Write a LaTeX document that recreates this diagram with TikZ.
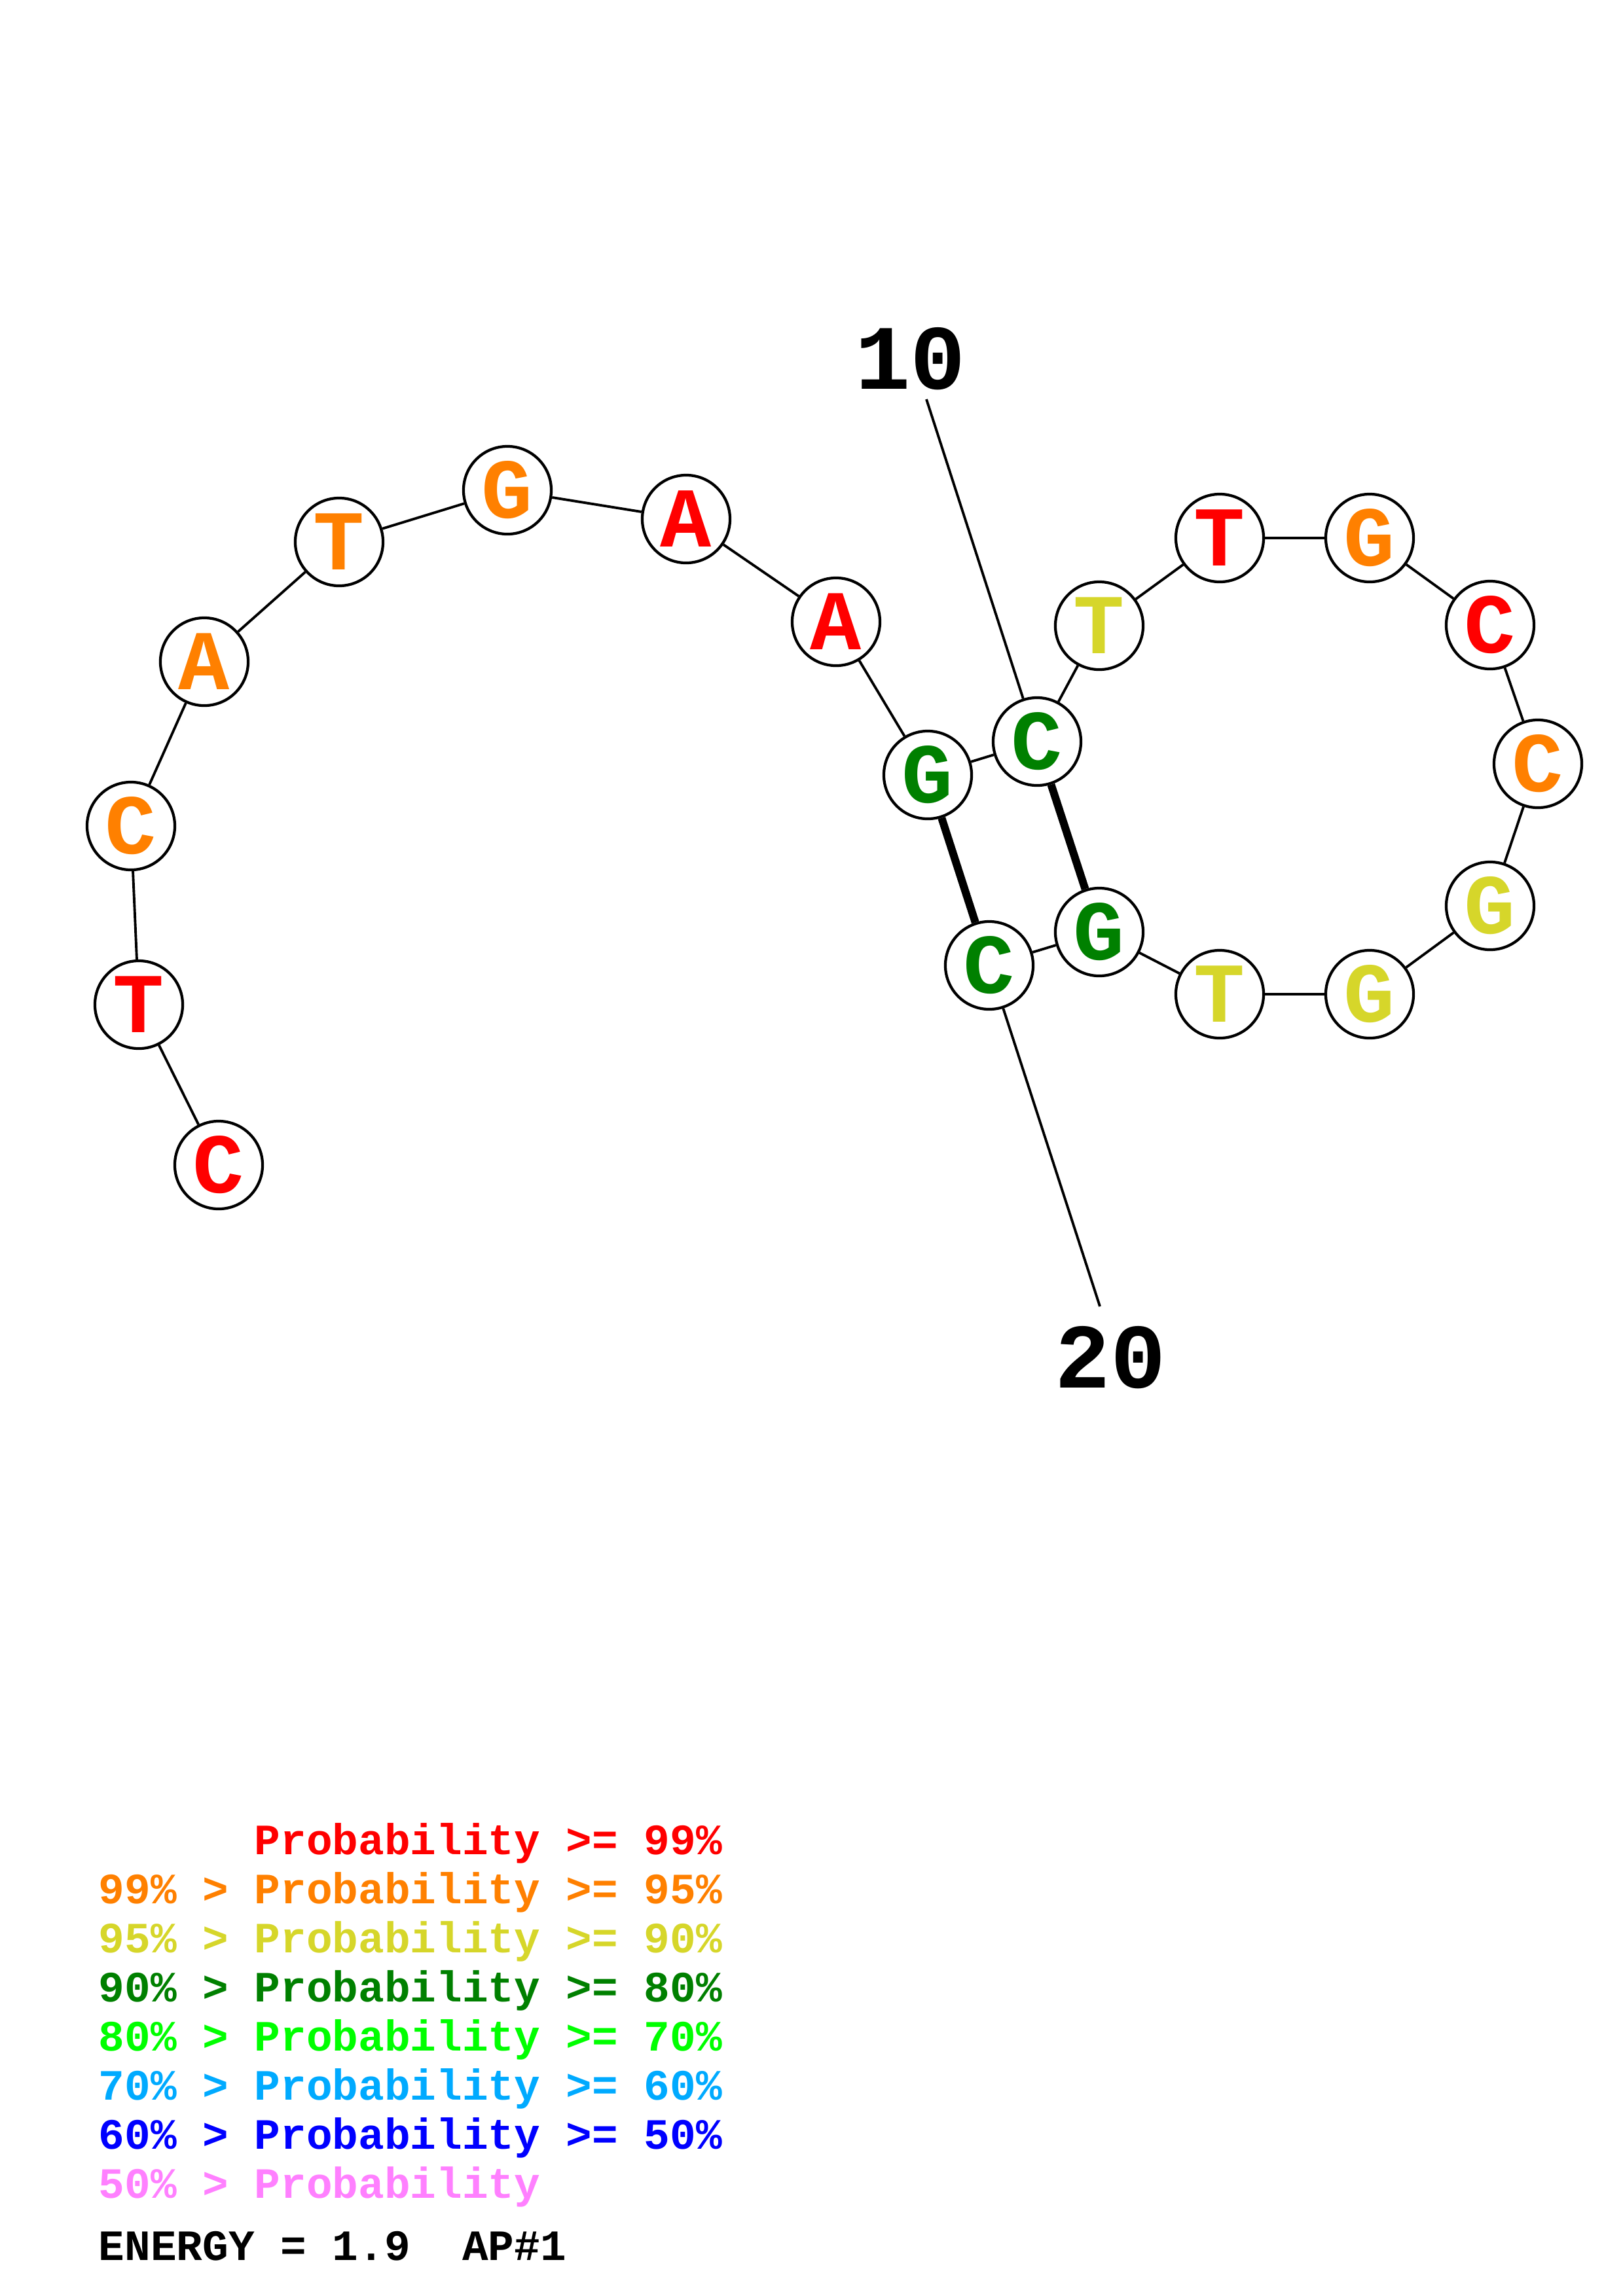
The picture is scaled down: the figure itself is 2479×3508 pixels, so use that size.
\documentclass[tikz,border=0pt]{standalone}
\usepackage{fontspec}
\newfontfamily\monof{Liberation Mono}
\definecolor{pr}{RGB}{255,0,0}
\definecolor{po}{RGB}{255,128,0}
\definecolor{py}{RGB}{214,214,42}
\definecolor{pdg}{RGB}{0,128,0}
\definecolor{pg}{RGB}{0,255,0}
\definecolor{plb}{RGB}{0,170,255}
\definecolor{pb}{RGB}{0,0,255}
\definecolor{pp}{RGB}{255,128,255}
\newcommand{\nucfont}{\monof\bfseries\fontsize{37}{37}\selectfont}
\newcommand{\numfont}{\monof\bfseries\fontsize{40}{40}\selectfont}
\newcommand{\legfont}{\monof\bfseries\fontsize{18.8}{18.8}\selectfont}
\tikzset{
  nuc/.style={circle, draw=black, line width=1.2pt, minimum size=1.34cm, inner sep=0pt, fill=white, font=\nucfont},
  bb/.style={line width=1.1pt, black},
  pairline/.style={line width=3.4pt, black},
  numlab/.style={font=\numfont, inner sep=0pt},
  leg/.style={font=\legfont, anchor=base west, inner sep=0pt}
}
\begin{document}
\begin{tikzpicture}[x=0.01cm,y=-0.01cm]
\useasboundingbox (0,0) rectangle (2479,3508);
\coordinate (n1) at (334,1780);
\coordinate (n2) at (212,1535);
\coordinate (n3) at (200,1262);
\coordinate (n4) at (312,1011);
\coordinate (n5) at (518,828);
\coordinate (n6) at (775,749);
\coordinate (n7) at (1048,793);
\coordinate (n8) at (1277,950);
\coordinate (n9) at (1417,1184);
\coordinate (n10) at (1584,1133);
\coordinate (n11) at (1679,956);
\coordinate (n12) at (1863,822);
\coordinate (n13) at (2092,822);
\coordinate (n14) at (2276,955);
\coordinate (n15) at (2349,1167);
\coordinate (n16) at (2276,1384);
\coordinate (n17) at (2092,1519);
\coordinate (n18) at (1863,1519);
\coordinate (n19) at (1679,1424);
\coordinate (n20) at (1511,1475);
\coordinate (l10end) at (1415,610);
\coordinate (l20end) at (1680,1996);

\node[nuc, text=pr]  (b1)  at (n1)  {C};
\node[nuc, text=pr]  (b2)  at (n2)  {T};
\node[nuc, text=po]  (b3)  at (n3)  {C};
\node[nuc, text=po]  (b4)  at (n4)  {A};
\node[nuc, text=po]  (b5)  at (n5)  {T};
\node[nuc, text=po]  (b6)  at (n6)  {G};
\node[nuc, text=pr]  (b7)  at (n7)  {A};
\node[nuc, text=pr]  (b8)  at (n8)  {A};
\node[nuc, text=pdg] (b9)  at (n9)  {G};
\node[nuc, text=pdg] (b10) at (n10) {C};
\node[nuc, text=py]  (b11) at (n11) {T};
\node[nuc, text=pr]  (b12) at (n12) {T};
\node[nuc, text=po]  (b13) at (n13) {G};
\node[nuc, text=pr]  (b14) at (n14) {C};
\node[nuc, text=po]  (b15) at (n15) {C};
\node[nuc, text=py]  (b16) at (n16) {G};
\node[nuc, text=py]  (b17) at (n17) {G};
\node[nuc, text=py]  (b18) at (n18) {T};
\node[nuc, text=pdg] (b19) at (n19) {G};
\node[nuc, text=pdg] (b20) at (n20) {C};

\foreach \a/\b in {1/2,2/3,3/4,4/5,5/6,6/7,7/8,8/9,9/10,10/11,11/12,12/13,13/14,14/15,15/16,16/17,17/18,18/19,19/20}
  \draw[bb] (b\a) -- (b\b);
\draw[pairline] (b9) -- (b20);
\draw[pairline] (b10) -- (b19);

\node[numlab] (lab10) at (1391,548) {10};
\node[numlab] (lab20) at (1696,2074) {20};
\draw[bb] (l10end) -- (b10);
\draw[bb] (b20) -- (l20end);

% legend
\node[leg, text=pr]  (g1) at (150,2833) {\phantom{99\% > }Probability >= 99\%};
\node[leg, text=po]  (g2) at (150,2908) {99\% > Probability >= 95\%};
\node[leg, text=py]  (g3) at (150,2983) {95\% > Probability >= 90\%};
\node[leg, text=pdg] (g4) at (150,3058) {90\% > Probability >= 80\%};
\node[leg, text=pg]  (g5) at (150,3133) {80\% > Probability >= 70\%};
\node[leg, text=plb] (g6) at (150,3208) {70\% > Probability >= 60\%};
\node[leg, text=pb]  (g7) at (150,3283) {60\% > Probability >= 50\%};
\node[leg, text=pp]  (g8) at (150,3358) {50\% > Probability};
\node[leg, text=black] (en) at (150,3453) {ENERGY = 1.9\ \ AP\#1};
\end{tikzpicture}
\end{document}
